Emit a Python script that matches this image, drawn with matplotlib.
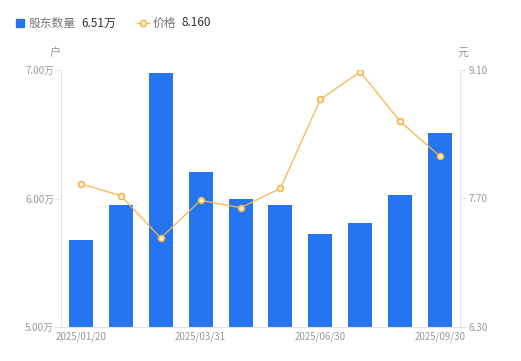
import matplotlib
matplotlib.use("Agg")
import matplotlib.pyplot as plt
import numpy as np

plt.rcParams['font.family'] = ['Noto Sans CJK SC', 'DejaVu Sans']

dates = ["2025/01/20", "2025/02/10", "2025/02/28", "2025/03/31", "2025/04/18",
         "2025/05/20", "2025/06/30", "2025/07/31", "2025/08/29", "2025/09/30"]
holders = [5.68, 5.95, 6.98, 6.21, 6.00, 5.95, 5.72, 5.81, 6.03, 6.51]  # 万户
price = [7.86, 7.73, 7.27, 7.68, 7.60, 7.81, 8.78, 9.08, 8.54, 8.16]
left_ticks = [5.0, 6.0, 7.0]
left_labels = ["5.00万", "6.00万", "7.00万"]
right_ticks = [6.30, 7.70, 9.10]
right_labels = ["6.30", "7.70", "9.10"]
shown_dates = ["2025/01/20", "2025/03/31", "2025/06/30", "2025/09/30"]

BLUE = "#2675f0"
ORANGE = "#f7b54a"
GRAY = "#999999"
AXIS = "#e3e3e3"

fig = plt.figure(figsize=(5.21, 3.61), dpi=100)
ax = fig.add_axes([61/521, 1-327/361, (460-61)/521, (327-70)/361])
x = np.arange(len(dates))
ax.bar(x, holders, width=0.6, color=BLUE, zorder=2)
ax.set_xlim(-0.5, len(dates)-0.5)
ax.set_ylim(5.0, 7.0)
ax.set_yticks(left_ticks)
ax.set_yticklabels(left_labels)
ax.set_xticks([dates.index(d) for d in shown_dates])
ax.set_xticklabels(shown_dates)
for s in ["top", "right"]:
    ax.spines[s].set_visible(False)
ax.spines["left"].set_color(AXIS)
ax.spines["bottom"].set_color(AXIS)
ax.tick_params(axis='y', colors=AXIS, labelcolor=GRAY, labelsize=7, length=4, pad=1)
ax.tick_params(axis='x', length=0, labelcolor=GRAY, labelsize=7, pad=3)

ax2 = ax.twinx()
ax2.plot(x, price, color=ORANGE, lw=0.9, marker='o', markersize=4.2,
         markerfacecolor="#fff6dd", markeredgecolor=ORANGE, markeredgewidth=1.2, zorder=3)
ax2.set_ylim(6.30, 9.10)
ax2.set_yticks(right_ticks)
ax2.set_yticklabels(right_labels)
for s in ["top", "left", "bottom"]:
    ax2.spines[s].set_visible(False)
ax2.spines["right"].set_color(AXIS)
ax2.tick_params(axis='y', colors=AXIS, labelcolor=GRAY, labelsize=7, length=4, pad=2)

fig.text(55/521, 1-53/361, "户", color=GRAY, fontsize=8, ha='center', va='center')
fig.text(463/521, 1-53/361, "元", color=GRAY, fontsize=8, ha='center', va='center')

# legend
fig.patches.append(plt.Rectangle((16/521, 1-27/361), 8/521, 8/361, transform=fig.transFigure,
                                 color=BLUE, figure=fig))
fig.text(29/521, 1-23/361, "股东数量", color="#777777", fontsize=8.5, va='center')
fig.text(81/521, 1-23/361, "6.51万", color="#333333", fontsize=8.5, va='center')
fig.lines.append(plt.Line2D([137/521, 149/521], [1-23/361, 1-23/361], transform=fig.transFigure,
                            color=ORANGE, lw=1, marker='o', markevery=[0], markersize=0))
fig.lines.append(plt.Line2D([143/521], [1-23/361], transform=fig.transFigure, color=ORANGE,
                            marker='o', markersize=4.2, markerfacecolor="#fff6dd",
                            markeredgecolor=ORANGE, markeredgewidth=1.2))
fig.text(153/521, 1-23/361, "价格", color="#777777", fontsize=8.5, va='center')
fig.text(181/521, 1-23/361, "8.160", color="#333333", fontsize=8.5, va='center')

fig.savefig("out.png", dpi=100)
